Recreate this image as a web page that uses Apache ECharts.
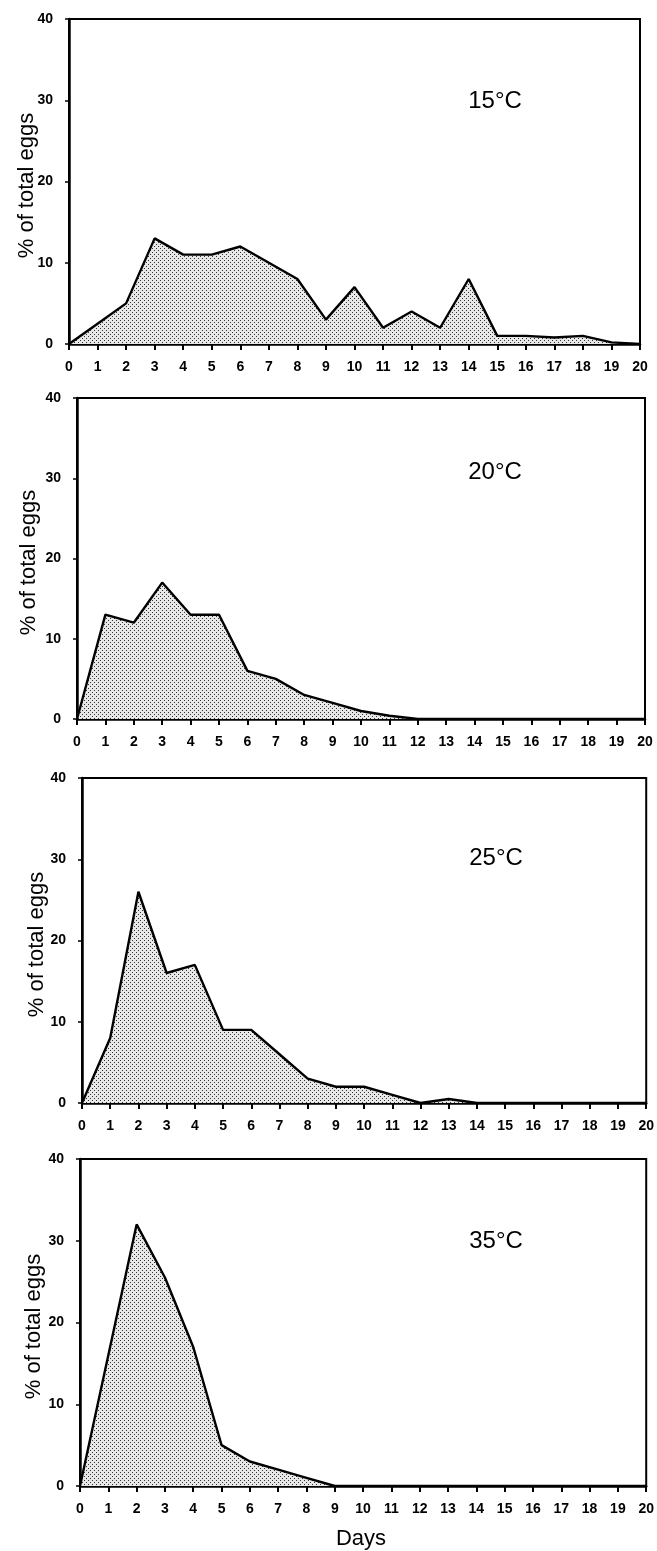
<!DOCTYPE html>
<html>
<head>
<meta charset="utf-8">
<script src="https://cdn.jsdelivr.net/npm/echarts@6/dist/echarts.min.js"></script>
<style>
html,body{margin:0;padding:0;background:#fff;}
#chart{width:657px;height:1551px;}
</style>
</head>
<body>
<div id="chart"></div>
<script>
// ---- data ----
const days = [0,1,2,3,4,5,6,7,8,9,10,11,12,13,14,15,16,17,18,19,20];
const eggs15 = [0,2.5,5,13,11,11,12,10,8,3,7,2,4,2,8,1,1,0.8,1,0.2,0];
const eggs20 = [0,13,12,17,13,13,6,5,3,2,1,0.4,0,0,0,0,0,0,0,0,0];
const eggs25 = [0,8,26,16,17,9,9,6,3,2,2,1,0,0.5,0,0,0,0,0,0,0];
const eggs35 = [0,16,32,25.5,17,5,3,2,1,0,0,0,0,0,0,0,0,0,0,0,0];
const panelLabels = ['15°C','20°C','25°C','35°C'];
const yLabel = '% of total eggs';
const xLabel = 'Days';
const yMin = 0, yMax = 40, yStep = 10;
const xMin = 0, xMax = 20, xStep = 1;

const seriesData = [eggs15, eggs20, eggs25, eggs35];

// ---- layout ----
const grids = [
  {left:69, top:19, width:571, height:325},
  {left:77, top:398, width:568, height:321},
  {left:82, top:778, width:565, height:325},
  {left:80, top:1159, width:568, height:327}
];
const yLabelX = [27, 29, 37, 34];
const tempPos = [[495,101],[495,472],[496,858],[496,1241]];

// stipple pattern
const pc = document.createElement('canvas');
pc.width = 4; pc.height = 4;
const pctx = pc.getContext('2d');
pctx.fillStyle = '#e8e8e8';
pctx.fillRect(0,0,4,4);
pctx.fillStyle = '#333';
pctx.fillRect(0,0,1,1);
pctx.fillRect(2,2,1,1);

const FONT = '"Liberation Sans", Arial, Helvetica, sans-serif';

const chart = echarts.init(document.getElementById('chart'), null, {renderer:'canvas'});

const option = {
  backgroundColor:'#fff',
  animation:false,
  grid: grids.map(g => Object.assign({show:true, borderColor:'#000', borderWidth:2, backgroundColor:'transparent'}, g)),
  xAxis: grids.map((g,i) => ({
    type:'value', gridIndex:i, min:xMin, max:xMax, interval:xStep,
    axisLine:{show:true, onZero:false, lineStyle:{color:'#000', width:2.5}},
    axisTick:{show:true, inside:false, length:6, lineStyle:{color:'#000', width:2}},
    axisLabel:{color:'#000', fontSize:14, fontWeight:'bold', fontFamily:FONT, margin:16, showMinLabel:true, showMaxLabel:true},
    splitLine:{show:false}
  })),
  yAxis: grids.map((g,i) => ({
    type:'value', gridIndex:i, min:yMin, max:yMax, interval:yStep,
    axisLine:{show:true, lineStyle:{color:'#000', width:2.5}},
    axisTick:{show:true, inside:false, length:4, lineStyle:{color:'#000', width:1.5}},
    axisLabel:{color:'#000', fontSize:14, fontWeight:'bold', fontFamily:FONT, margin:16},
    splitLine:{show:false}
  })),
  series: seriesData.map((arr,i) => ({
    type:'line', xAxisIndex:i, yAxisIndex:i,
    data: days.map((d,k) => [d, arr[k]]),
    symbol:'none',
    lineStyle:{color:'#000', width:2.4},
    areaStyle:{color:{image:pc, repeat:'repeat'}, opacity:1},
    z:3
  })),
  graphic: [].concat(
    grids.map((g,i) => ({
      type:'text', x:yLabelX[i], y:g.top + g.height/2 + 4, rotation:Math.PI/2,
      style:{text:yLabel, fontSize:22, fontFamily:FONT, fill:'#000', textAlign:'center', textVerticalAlign:'middle'}
    })),
    tempPos.map((p,i) => ({
      type:'text', x:p[0], y:p[1],
      style:{text:panelLabels[i], fontSize:24, fontFamily:FONT, fill:'#000', textAlign:'center', textVerticalAlign:'middle'}
    })),
    [{
      type:'text', x:361, y:1539,
      style:{text:xLabel, fontSize:22, fontFamily:FONT, fill:'#000', textAlign:'center', textVerticalAlign:'middle'}
    }]
  )
};
chart.setOption(option);
</script>
</body>
</html>
